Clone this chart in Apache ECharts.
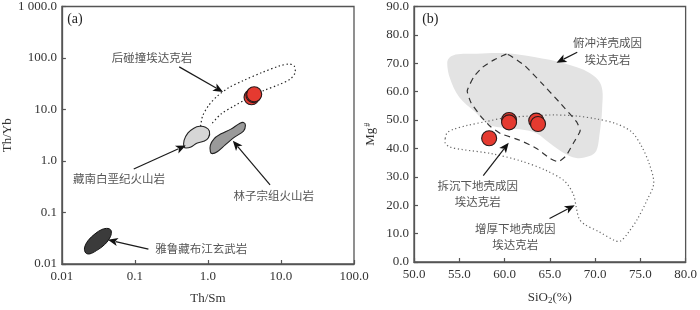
<!DOCTYPE html>
<html><head><meta charset="utf-8">
<script src="https://cdn.jsdelivr.net/npm/echarts@6/dist/echarts.min.js"></script>
<style>html,body{margin:0;padding:0;background:#fff}#c{width:700px;height:310px}</style>
</head><body><div id="c"></div>
<script>
// ---------- Panel (a): Th/Sm vs Th/Yb (log-log) ----------
const aXTicks = ['0.01', '0.1', '1.0', '10.0', '100.0'];
const aYTicks = ['0.01', '0.1', '1.0', '10.0', '100.0', '1 000.0'];
const aSamples = [[3.95, 17.3], [4.2, 19.0], [4.3, 19.8]];
// 雅鲁藏布江玄武岩
const aYarlung = [[0.0212,0.0164],[0.0204,0.0205],[0.0228,0.0285],[0.0284,0.0385],[0.0352,0.0468],[0.0428,0.049],[0.0472,0.0445],[0.0462,0.034],[0.0385,0.0238],[0.0297,0.0182],[0.024,0.0157]];
// 藏南白垩纪火山岩
const aCretaceous = [[0.471,1.87],[0.471,2.51],[0.533,3.51],[0.641,4.34],[0.77,4.72],[0.926,4.53],[1.047,3.82],[1.015,2.84],[0.871,2.41],[0.703,2.21],[0.585,1.87],[0.501,1.79]];
// 林子宗组火山岩
const aLinzizong = [[1.08,1.51],[1.08,2.03],[1.22,2.73],[1.51,3.37],[2.06,4.16],[2.71,5.36],[3.07,5.59],[3.26,4.92],[3.07,3.82],[2.26,2.84],[1.71,2.03],[1.34,1.51],[1.15,1.39]];
// 后碰撞埃达克岩 (open dotted outline)
const aPostCollision = [[0.794,4.72],[0.845,7.5],[1.02,11.9],[1.34,18.2],[1.94,26.6],[3.16,37.3],[5.5,52.2],[9.55,70.2],[12.98,76.3],[15.14,70.2],[15.6,52.2],[13.4,38.9],[9.26,30.2],[5.84,23.4],[3.57,16.7],[2.33,11.9],[1.51,8.17],[1.08,4.92]];
const aLabels = [[0.171,102.6,'后碰撞埃达克岩'],[0.0603,0.464,'藏南白垩纪火山岩'],[7.94,0.211,'林子宗组火山岩'],[0.807,0.0196,'雅鲁藏布江玄武岩']];
const aArrows = [[0.404,67.3,1.61,21.8],[0.0964,0.698,0.497,2.0],[7.09,0.345,2.19,2.48],[0.153,0.0194,0.0426,0.0296]];
const aTag = [[0.0118, 560, '(a)']];

// ---------- Panel (b): SiO2 vs Mg# ----------
const bXTicks = ['50.0','55.0','60.0','65.0','70.0','75.0','80.0'];
const bYTicks = ['0.0','10.0','20.0','30.0','40.0','50.0','60.0','70.0','80.0','90.0'];
const bSamples = [[58.3,43.6],[60.5,50.0],[60.5,49.2],[63.5,49.8],[63.7,48.6]];
// 俯冲洋壳成因埃达克岩 (grey field)
const bSlab = [[53.67,70.2],[53.98,72.2],[54.83,73.2],[56.94,73.4],[60.11,73.5],[63.28,72.2],[66.66,69.9],[69.4,66.6],[70.67,62.3],[70.78,54.1],[70.46,44.2],[70.14,39.2],[69.4,37.3],[67.92,36.6],[66.45,38.6],[64.86,42.2],[63.6,45.2],[62.2,46.5],[60.11,47.1],[58.2,48.5],[56.75,52.8],[55.0,58.0],[53.98,64.6]];
// 拆沉下地壳成因埃达克岩 (dashed)
const bDelam = [[60.21,73.2],[58.84,71.2],[57.57,68.6],[56.62,65.3],[55.88,60.3],[56.3,56.1],[57.36,51.4],[58.42,47.8],[59.58,45.2],[61.69,42.9],[63.59,39.9],[64.97,36.6],[65.92,35.3],[66.77,37.3],[67.61,41.9],[68.35,46.2],[67.93,49.5],[66.03,56.4],[64.02,63.3],[62.22,69.2],[60.74,72.5]];
// 增厚下地壳成因埃达克岩 (dotted)
const bThick = [[53.45,43.5],[53.66,45.5],[54.4,46.8],[55.88,48.1],[57.99,49.5],[60.11,50.8],[62.75,51.4],[65.39,51.8],[68.03,51.4],[70.14,50.4],[72.26,48.8],[74.05,45.8],[75.11,40.9],[75.95,34.9],[76.48,27.7],[75.74,21.8],[74.69,15.2],[73.63,10.2],[72.78,7.3],[72.15,7.6],[70.46,10.6],[68.87,13.2],[68.24,15.2],[67.93,19.1],[67.61,23.7],[66.66,28.4],[64.55,32.3],[61.8,35.6],[58.52,38.2],[55.35,39.6],[53.98,40.5],[53.45,41.9]];
const bLabels = [[71.38,74.3,'俯冲洋壳成因\n埃达克岩'],[57.05,24.1,'拆沉下地壳成因\n埃达克岩'],[61.17,8.9,'增厚下地壳成因\n埃达克岩']];
const bArrows = [[68.03,73.9,65.74,70.2],[57.65,30.4,60.46,42.0],[64.97,15.3,67.75,20.0]];
const bTag = [[50.9, 85.4, '(b)']];

const SERIF = '"Liberation Serif","DejaVu Serif",serif';
const CJK = '"Noto Sans CJK SC","Noto Sans CJK JP",sans-serif';
const AX = '#555';

function shapeSeries(idx, pts, opts) {
  return {
    type: 'custom', xAxisIndex: idx, yAxisIndex: idx, data: pts, z: opts.z || 2, silent: true,
    renderItem: function (params, api) {
      if (params.dataIndex !== 0) return null;
      const p = pts.map(function (d) { return api.coord(d); });
      return {
        type: opts.closed ? 'polygon' : 'polyline',
        shape: { points: p, smooth: opts.smooth == null ? 0.35 : opts.smooth },
        style: {
          fill: opts.fill || (opts.closed ? 'none' : null),
          stroke: opts.stroke || '#222', lineWidth: opts.lw || 1.2,
          lineDash: opts.dash || null
        }
      };
    }
  };
}
function arrowSeries(idx, arr) {
  return {
    type: 'custom', xAxisIndex: idx, yAxisIndex: idx, data: arr, z: 6, silent: true,
    encode: { x: [0, 2], y: [1, 3] },
    renderItem: function (params, api) {
      const a = api.coord([api.value(0), api.value(1)]);
      const b = api.coord([api.value(2), api.value(3)]);
      const dx = b[0] - a[0], dy = b[1] - a[1];
      const L = Math.sqrt(dx * dx + dy * dy), ux = dx / L, uy = dy / L;
      const hl = 10, hw = 4.2;
      const bx = b[0] - ux * hl, by = b[1] - uy * hl;
      return {
        type: 'group', children: [
          { type: 'line', shape: { x1: a[0], y1: a[1], x2: bx + ux * 2, y2: by + uy * 2 }, style: { stroke: '#1a1a1a', lineWidth: 1.2 } },
          { type: 'polygon', shape: { points: [[b[0], b[1]], [bx - uy * hw, by + ux * hw], [bx + ux * 2.5, by + uy * 2.5], [bx + uy * hw, by - ux * hw]] }, style: { fill: '#111' } }
        ]
      };
    }
  };
}
function textSeries(idx, arr, style) {
  return {
    type: 'custom', xAxisIndex: idx, yAxisIndex: idx, data: arr.map(function (d) { return [d[0], d[1]]; }), z: 7, silent: true,
    renderItem: function (params, api) {
      const c = api.coord([api.value(0), api.value(1)]);
      return {
        type: 'text', x: c[0], y: c[1],
        style: Object.assign({ text: arr[params.dataIndex][2], align: 'center', verticalAlign: 'middle' }, style)
      };
    }
  };
}
function dotSeries(idx, pts) {
  return {
    type: 'scatter', xAxisIndex: idx, yAxisIndex: idx, data: pts, symbolSize: 15, z: 5, silent: true,
    itemStyle: { color: '#e53a30', borderColor: '#2a1a1a', borderWidth: 1.1, opacity: 1 }
  };
}

const axisCommon = {
  axisLine: { show: true, onZero: false, lineStyle: { color: AX, width: 1.3 } },
  axisTick: { show: true, inside: true, length: 4, lineStyle: { color: AX, width: 1.2 } },
  splitLine: { show: false },
  minorTick: { show: false },
  axisLabel: { color: '#333', fontFamily: SERIF, fontSize: 13, margin: 6 },
  nameTextStyle: { color: '#333', fontFamily: SERIF, fontSize: 13 },
  nameLocation: 'middle'
};
function merge(a, b) { return Object.assign({}, a, b); }

const option = {
  animation: false,
  backgroundColor: '#fff',
  grid: [
    { left: 55, top: 1, width: 299, height: 273, show: true, borderColor: AX, borderWidth: 1.3, backgroundColor: 'transparent' },
    { left: 414, top: 1, width: 284, height: 273, show: true, borderColor: AX, borderWidth: 1.3, backgroundColor: 'transparent' }
  ],
  xAxis: [
    merge(axisCommon, { gridIndex: 0, type: 'log', logBase: 10, min: 0.01, max: 100, name: 'Th/Sm', nameGap: 28,
      axisLabel: merge(axisCommon.axisLabel, { formatter: function (v) { return aXTicks[Math.round(Math.log10(v)) + 2]; } }) }),
    merge(axisCommon, { gridIndex: 1, type: 'value', min: 50, max: 80, interval: 5, name: 'SiO{sub|2}(%)', nameGap: 28,
      nameTextStyle: { color: '#333', fontFamily: SERIF, fontSize: 13, rich: { sub: { fontFamily: SERIF, fontSize: 9, padding: [6, 0, 0, 0] } } },
      axisLabel: merge(axisCommon.axisLabel, { formatter: function (v) { return bXTicks[Math.round((v - 50) / 5)]; } }) })
  ],
  yAxis: [
    merge(axisCommon, { gridIndex: 0, type: 'log', logBase: 10, min: 0.01, max: 1000, name: 'Th/Yb', nameGap: 46,
      axisLabel: merge(axisCommon.axisLabel, { margin: 5, formatter: function (v) { return aYTicks[Math.round(Math.log10(v)) + 2]; } }) }),
    merge(axisCommon, { gridIndex: 1, type: 'value', min: 0, max: 90, interval: 10, name: 'Mg{sup|#}', nameGap: 36,
      nameTextStyle: { color: '#333', fontFamily: SERIF, fontSize: 13, rich: { sup: { fontFamily: SERIF, fontSize: 8, padding: [0, 0, 6, 1] } } },
      axisLabel: merge(axisCommon.axisLabel, { margin: 5, formatter: function (v) { return bYTicks[Math.round(v / 10)]; } }) })
  ],
  series: [
    // panel a
    shapeSeries(0, aYarlung, { closed: true, fill: '#3b3b3b', stroke: '#111', lw: 1 }),
    shapeSeries(0, aCretaceous, { closed: true, fill: '#d6d6d6', stroke: '#222', lw: 1.1, smooth: 0.4 }),
    shapeSeries(0, aLinzizong, { closed: true, fill: '#9a9a9a', stroke: '#222', lw: 1.1, smooth: 0.3 }),
    shapeSeries(0, aPostCollision, { closed: false, stroke: '#222', lw: 1.2, dash: [1.4, 2.6], smooth: 0.3 }),
    dotSeries(0, aSamples),
    arrowSeries(0, aArrows),
    textSeries(0, aLabels, { font: '11.5px ' + CJK, fill: '#555' }),
    textSeries(0, aTag, { font: '14px ' + SERIF, fill: '#222', align: 'left' }),
    // panel b
    shapeSeries(1, bSlab, { closed: true, fill: '#e3e3e3', stroke: 'none', lw: 0, smooth: 0.35, z: 1 }),
    shapeSeries(1, bDelam, { closed: true, stroke: '#333', lw: 1.2, dash: [6, 4.5], smooth: 0.15 }),
    shapeSeries(1, bThick, { closed: true, stroke: '#666', lw: 1.2, dash: [1.2, 2.6], smooth: 0.3 }),
    dotSeries(1, bSamples),
    arrowSeries(1, bArrows),
    textSeries(1, bLabels, { font: '11.5px ' + CJK, fill: '#555', lineHeight: 16.5 }),
    textSeries(1, bTag, { font: '14px ' + SERIF, fill: '#222', align: 'left' })
  ]
};
const chart = echarts.init(document.getElementById('c'), null, { renderer: 'canvas' });
chart.setOption(option);
</script>
</body></html>
